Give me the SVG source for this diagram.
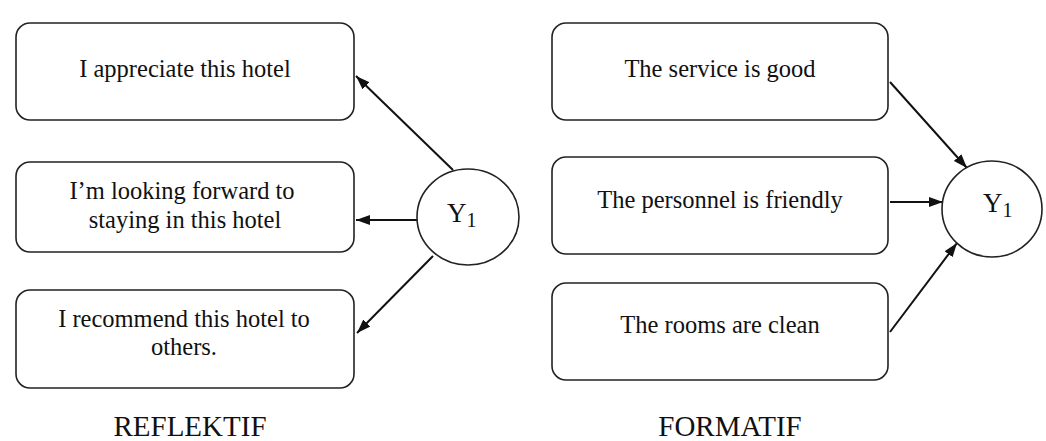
<svg xmlns="http://www.w3.org/2000/svg" width="1046" height="441" viewBox="0 0 1046 441">
<defs>
<marker id="ah" viewBox="0 0 14 10" refX="14" refY="5" markerWidth="14" markerHeight="10" markerUnits="userSpaceOnUse" orient="auto">
<path d="M0,0 L14,5 L0,10 Z" fill="#111"/>
</marker>
</defs>
<style>
.box{fill:#fff;stroke:#222;stroke-width:1.6}
.lv{fill:#fff;stroke:#222;stroke-width:1.6}
.t{font-size:24.5px;fill:#111;text-anchor:middle}
.y{font-size:27px;fill:#111}
.s{font-size:20px}
.cap{font-size:29px;fill:#111;text-anchor:middle}
.c{stroke:#111;stroke-width:2;fill:none;marker-end:url(#ah)}
</style>
<rect width="1046" height="441" fill="#fff"/>
<g id="connectors">
<line class="c" x1="453" y1="170" x2="356" y2="76"/>
<line class="c" x1="417" y1="220" x2="356" y2="220"/>
<line class="c" x1="433" y1="256" x2="357" y2="333"/>
<line class="c" x1="890" y1="82" x2="967" y2="168"/>
<line class="c" x1="890" y1="202" x2="943" y2="202"/>
<line class="c" x1="890" y1="332" x2="957" y2="243"/>
</g>
<g font-family="'Liberation Serif', 'Times New Roman', serif">
<g id="r1"><rect class="box" x="16" y="23" width="338" height="97" rx="14"/><text class="t" x="185" y="77">I appreciate this hotel</text></g>
<g id="r2"><rect class="box" x="16" y="162" width="338" height="90" rx="14"/><text class="t" x="182" y="199">I’m looking forward to</text><text class="t" x="185" y="228">staying in this hotel</text></g>
<g id="r3"><rect class="box" x="16" y="290" width="338" height="98" rx="14"/><text class="t" x="184" y="327">I recommend this hotel to</text><text class="t" x="184" y="355">others.</text></g>
<g id="y1left"><ellipse class="lv" cx="468" cy="217" rx="51" ry="48"/><text class="y" x="447" y="222">Y<tspan class="s" dy="5">1</tspan></text></g>
<g id="f1"><rect class="box" x="552" y="23" width="336" height="97" rx="14"/><text class="t" x="720" y="77">The service is good</text></g>
<g id="f2"><rect class="box" x="552" y="157" width="336" height="97" rx="14"/><text class="t" x="720" y="208">The personnel is friendly</text></g>
<g id="f3"><rect class="box" x="552" y="283" width="336" height="97" rx="14"/><text class="t" x="720" y="333">The rooms are clean</text></g>
<g id="y1right"><ellipse class="lv" cx="992" cy="209" rx="50" ry="48"/><text class="y" x="983" y="212">Y<tspan class="s" dy="5">1</tspan></text></g>
<g id="labels"><text class="cap" x="190" y="436">REFLEKTIF</text><text class="cap" x="730" y="436">FORMATIF</text></g>
</g>
</svg>
